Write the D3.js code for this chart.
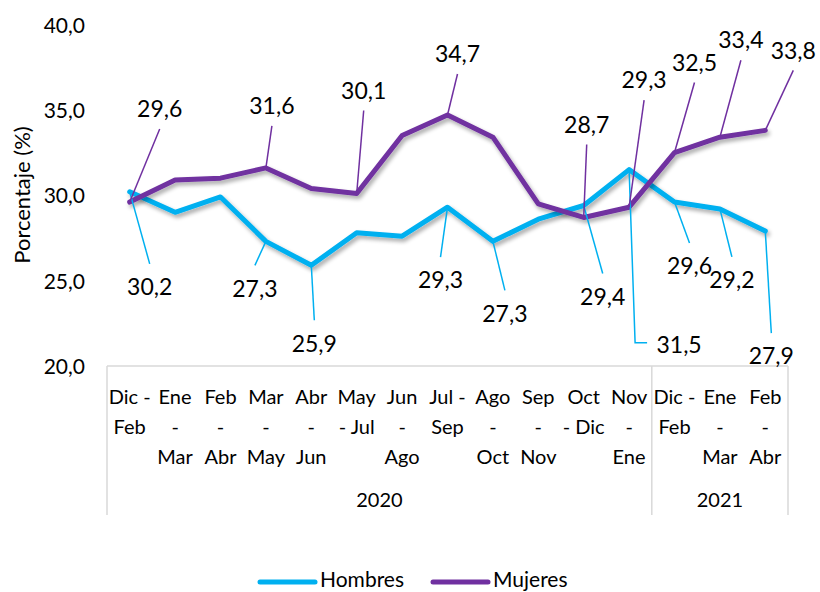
<!DOCTYPE html>
<html><head><meta charset="utf-8">
<script src="https://cdn.jsdelivr.net/npm/d3@7"></script>
<style>body{margin:0;background:#fff}</style>
</head><body>
<svg id="c" width="820" height="592"></svg>
<script>
// ---- data ----
const categoryLines = [
  ["Dic -","Feb"],["Ene","-","Mar"],["Feb","-","Abr"],["Mar","-","May"],["Abr","-","Jun"],
  ["May","- Jul"],["Jun","-","Ago"],["Jul -","Sep"],["Ago","-","Oct"],["Sep","-","Nov"],
  ["Oct","- Dic"],["Nov","-","Ene"],["Dic -","Feb"],["Ene","-","Mar"],["Feb","-","Abr"]
];
const years = ["2020","2021"];
const yearCounts = [12,3];
const hombres = [30.2,29.0,29.9,27.3,25.9,27.8,27.6,29.3,27.3,28.6,29.4,31.5,29.6,29.2,27.9];
const mujeres = [29.6,30.9,31.0,31.6,30.4,30.1,33.5,34.7,33.4,29.5,28.7,29.3,32.5,33.4,33.8];
const yTicks = [20,25,30,35,40];
const seriesNames = ["Hombres","Mujeres"];
const colors = ["#00B0F0","#7030A0"];
// data labels: which points, and label offsets (layout)
const hombresLabelIdx = [0,3,4,7,8,10,11,12,13,14];
const hombresLabelOff = [[20,95],[-11,47],[3,78],[-7,73],[12,72],[19,91],[50,175,1],[15,64],[12,71],[6,125]];
const mujeresLabelIdx = [0,3,5,7,10,11,12,13,14];
const mujeresLabelOff = [[30,-93],[6,-62],[7,-103],[10,-61],[3,-93],[15,-127],[20,-90],[21,-97],[28,-80]];

// ---- chart ----
const svg = d3.select("#c");
const FONT = "Lato, 'Open Sans', sans-serif";
const x = d3.scaleBand().domain(d3.range(categoryLines.length)).range([107,788]).padding(0);
const cx = i => x(i) + x.bandwidth()/2;
const y = d3.scaleLinear().domain([20,40]).range([366,24.5]);
const fmt = v => d3.format(".1f")(v).replace(".", ",");

const defs = svg.append("defs");
const f = defs.append("filter").attr("id","sh").attr("x","-10%").attr("y","-10%").attr("width","120%").attr("height","130%");
f.append("feGaussianBlur").attr("in","SourceAlpha").attr("stdDeviation",2).attr("result","b");
f.append("feOffset").attr("in","b").attr("dx",2).attr("dy",3).attr("result","o");
f.append("feComponentTransfer").attr("in","o").attr("result","o2")
  .append("feFuncA").attr("type","linear").attr("slope",0.35);
const m = f.append("feMerge");
m.append("feMergeNode").attr("in","o2");
m.append("feMergeNode").attr("in","SourceGraphic");

// Y axis ticks
const yAxis = d3.axisLeft(y).tickValues(yTicks).tickFormat(fmt).tickSize(0).tickPadding(0);
const ya = svg.append("g").attr("transform","translate(85,0)").call(yAxis);
ya.select(".domain").remove();
ya.selectAll("text").attr("font-family",FONT).attr("font-size",21).attr("fill","#000").attr("dy","0.36em");

// Y title
svg.append("text").attr("transform","translate(30,195) rotate(-90)")
  .attr("text-anchor","middle").attr("font-family",FONT).attr("font-size",22).attr("fill","#000")
  .text("Porcentaje (%)");

// X axis box
const grid = "#d9d9d9";
svg.append("line").attr("x1",107).attr("x2",788).attr("y1",y(20)).attr("y2",y(20)).attr("stroke",grid).attr("stroke-width",1.5);
let acc = 0;
const bounds = [0];
yearCounts.forEach(c => { acc += c; bounds.push(acc); });
bounds.forEach(b => {
  const xx = b < categoryLines.length ? x(b) : x(categoryLines.length-1)+x.bandwidth();
  svg.append("line").attr("x1",xx).attr("x2",xx).attr("y1",y(20)).attr("y2",515).attr("stroke",grid).attr("stroke-width",1.5);
});

// category labels
const cat = svg.append("g").attr("font-family",FONT).attr("font-size",20).attr("fill","#000").attr("text-anchor","middle");
categoryLines.forEach((lines,i) => {
  lines.forEach((t,j) => {
    cat.append("text").attr("x",cx(i)).attr("y",397 + j*30).attr("dy","0.36em").text(t);
  });
});
years.forEach((t,k) => {
  const a = bounds[k], b = bounds[k+1];
  const x0 = x(a), x1 = b < categoryLines.length ? x(b) : x(categoryLines.length-1)+x.bandwidth();
  cat.append("text").attr("x",(x0+x1)/2).attr("y",500).attr("dy","0.36em").text(t);
});

// lines
const line = d3.line().x((d,i)=>cx(i)).y(d=>y(d));
[hombres, mujeres].forEach((s,k) => {
  svg.append("path").datum(s).attr("d",line).attr("fill","none")
    .attr("stroke",colors[k]).attr("stroke-width",5).attr("stroke-linejoin","round").attr("stroke-linecap","round")
    .attr("filter","url(#sh)");
});

// data labels + leader lines
const lbl = svg.append("g");
function labels(s, idx, off, color){
  idx.forEach((i,n) => {
    const px = cx(i), py = y(s[i]);
    const lx = px + off[n][0], ly = py + off[n][1];
    const below = off[n][1] > 0;
    if (off[n][2]) {
      lbl.append("polyline").attr("points", [[px,py],[lx-44,ly-2],[lx-32,ly-2]].map(p=>p.join(",")).join(" "))
        .attr("fill","none").attr("stroke",color).attr("stroke-width",1.5);
    } else {
      lbl.append("line").attr("x1",px).attr("y1",py).attr("x2",lx).attr("y2", below ? ly-23 : ly+20)
        .attr("stroke",color).attr("stroke-width",1.5);
    }
    lbl.append("text").attr("x",lx).attr("y",ly).attr("dy","0.36em").attr("text-anchor","middle")
      .attr("font-family",FONT).attr("font-size",23).attr("fill","#000").text(fmt(s[i]));
  });
}
labels(hombres, hombresLabelIdx, hombresLabelOff, colors[0]);
labels(mujeres, mujeresLabelIdx, mujeresLabelOff, colors[1]);

// legend
const lg = svg.append("g");
const legX = [260, 433];
seriesNames.forEach((n,k) => {
  lg.append("line").attr("x1",legX[k]).attr("x2",legX[k]+55).attr("y1",582).attr("y2",582)
    .attr("stroke",colors[k]).attr("stroke-width",5).attr("stroke-linecap","round");
  lg.append("text").attr("x",legX[k]+60).attr("y",587).attr("font-family",FONT).attr("font-size",21).attr("fill","#000").text(n);
});
</script>
</body></html>
